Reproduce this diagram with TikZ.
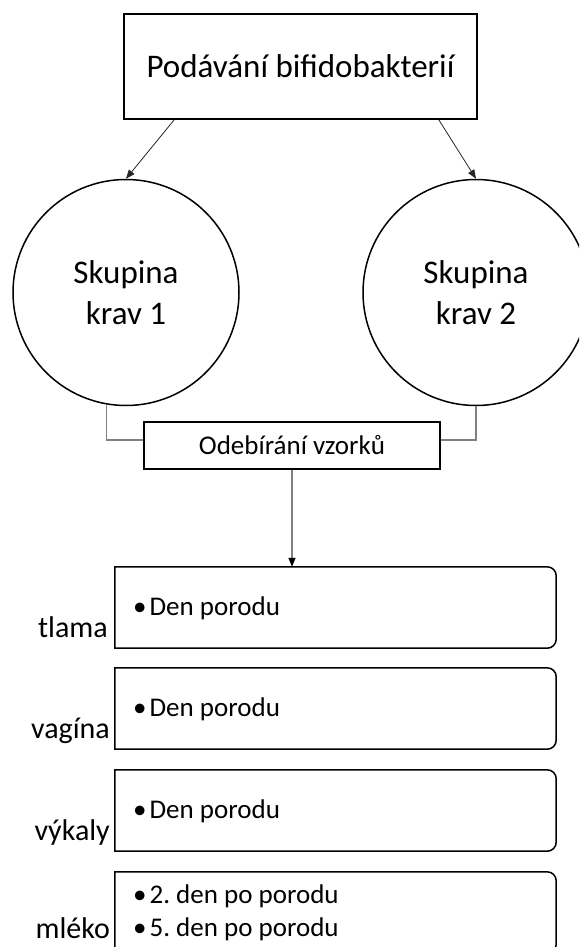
\documentclass[tikz,border=0pt]{standalone}
\usepackage{fontspec}
\setmainfont{Carlito}
\usetikzlibrary{arrows.meta}
\tikzset{
  boxline/.style={draw=black, line width=1.5pt},
  bigtext/.style={font=\fontsize{33}{41}\selectfont},
  midtext/.style={font=\fontsize{27}{33}\selectfont},
  labeltext/.style={font=\fontsize{30}{36}\selectfont, inner sep=0pt, anchor=base east},
  bullettext/.style={font=\fontsize{27}{33}\selectfont, inner sep=0pt, anchor=base west},
  thinarrow/.style={draw=black!85, line width=0.8pt, -{Triangle[length=9pt,width=7pt]}},
  grayline/.style={draw=black!50, line width=1.3pt},
  grayarrow/.style={grayline, -{Triangle[length=9pt,width=7pt,fill=black,color=black]}},
  holder/.style={rectangle, inner sep=0pt, minimum width=441pt, minimum height=81pt}
}
\begin{document}
\begin{tikzpicture}[x=1pt, y=-1pt]
\clip (0,0) rectangle (579,947);
\fill[white] (0,0) rectangle (579,947);

% top box
\node[boxline, bigtext, rectangle, minimum width=353pt, minimum height=105pt, inner sep=0pt]
  (top) at (300.5,66.5) {Podávání bifidobakterií};

% circles
\node[boxline, bigtext, circle, minimum size=226pt, inner sep=0pt, align=center]
  (c1) at (126,292.5) {Skupina\\krav 1};
\node[boxline, bigtext, circle, minimum size=226pt, inner sep=0pt, align=center]
  (c2) at (476,292.5) {Skupina\\krav 2};

\draw[thinarrow] ([xshift=51pt]top.south west) -- (c1.north);
\draw[thinarrow] ([xshift=-39pt]top.south east) -- (c2.north);

% sampling box
\node[boxline, midtext, rectangle, minimum width=296pt, minimum height=47pt, inner sep=0pt]
  (samp) at (292,445.5) {Odebírání vzorků};

\draw[grayline] (c1.260.8) |- ([yshift=5.5pt]samp.west);
\draw[grayline] (c2.south) |- ([yshift=5.5pt]samp.east);

% sample boxes
\node[holder] (b1) at (335.5,607.5) {};
\node[holder] (b2) at (335.5,708.5) {};
\node[holder] (b3) at (335.5,810.5) {};
\node[holder] (b4) at (335.5,912.5) {};

\foreach \b in {b1,b2,b3,b4}{
  \draw[line width=1.5pt] (\b.north west) -- ([xshift=-9pt]\b.north east)
    arc[start angle=90, end angle=0, radius=9pt]
    -- ([yshift=9pt]\b.south east)
    arc[start angle=0, end angle=-90, radius=9pt]
    -- (\b.south west) -- cycle;
}

\draw[grayarrow] (samp.south) -- (samp.south |- b1.north);

% labels
\node[labeltext] (l1) at (108,637) {tlama};
\node[labeltext] (l2) at (110,738) {vagína};
\node[labeltext] (l3) at (110,840) {výkaly};
\node[labeltext] (l4) at (110,938) {mléko};

% bullet texts
\node[bullettext] (t1) at (133,615) {\textbullet\hspace{3pt}Den porodu};
\node[bullettext] (t2) at (133,716) {\textbullet\hspace{3pt}Den porodu};
\node[bullettext] (t3) at (133,818) {\textbullet\hspace{3pt}Den porodu};
\node[bullettext] (t4) at (133,903) {\textbullet\hspace{3pt}2.\ den po porodu};
\node[bullettext] (t5) at (133,936) {\textbullet\hspace{3pt}5.\ den po porodu};
\end{tikzpicture}
\end{document}
